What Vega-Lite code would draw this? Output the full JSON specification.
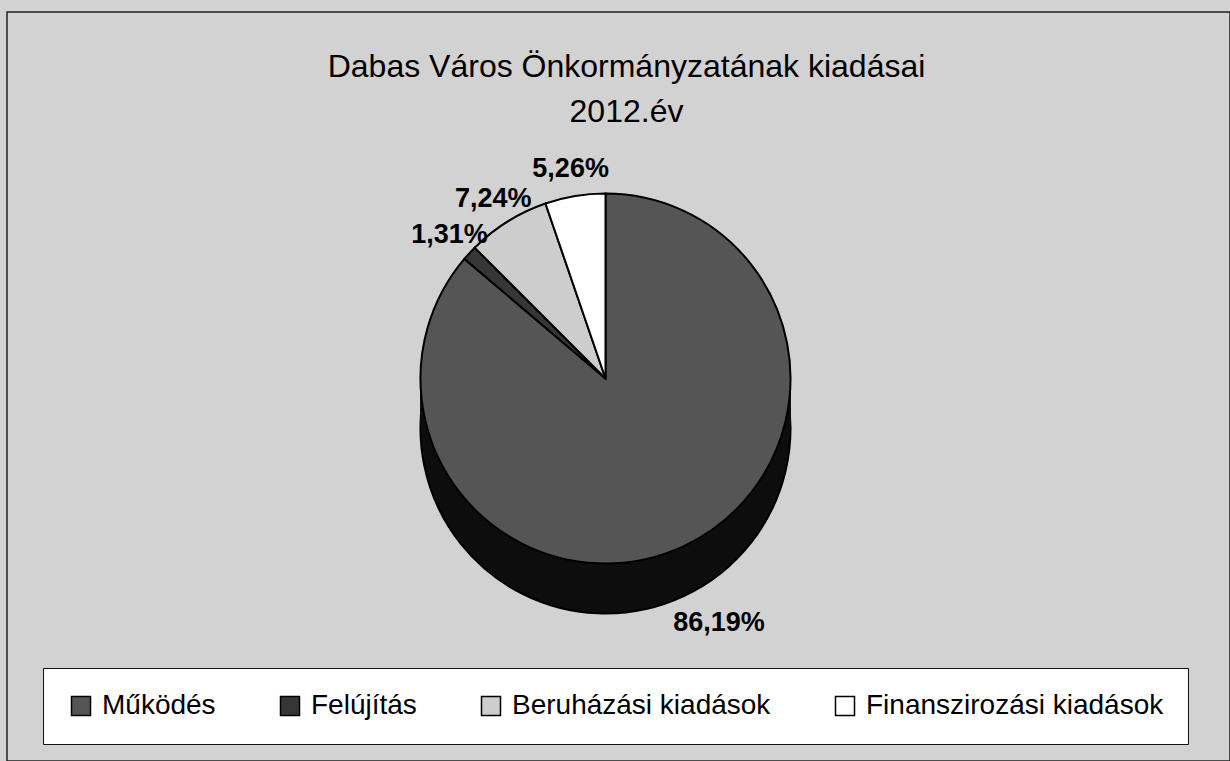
{
  "$schema": "https://vega.github.io/schema/vega-lite/v6.json",
  "width": 1223,
  "height": 749,
  "autosize": {"type": "none"},
  "padding": {"left": 7, "top": 12, "right": 0, "bottom": 0},
  "background": "#d2d2d2",
  "view": {"fill": "#d2d2d2", "stroke": "#222222", "strokeWidth": 1.5},
  "config": {
    "view": {"fill": "#d2d2d2", "stroke": "#222222", "strokeWidth": 1.5},
    "font": "Liberation Sans"
  },
  "title": {
    "text": ["Dabas Város Önkormányzatának kiadásai", "2012.év"],
    "font": "Liberation Sans",
    "fontSize": 32,
    "fontWeight": "normal",
    "color": "black",
    "lineHeight": 45,
    "anchor": "middle",
    "offset": -117,
    "dx": 8
  },
  "data": {
    "values": [
      {"kategoria": "Működés", "arany": 86.19, "cimke": "86,19%", "sorrend": 1},
      {"kategoria": "Felújítás", "arany": 1.31, "cimke": "1,31%", "sorrend": 2},
      {"kategoria": "Beruházási kiadások", "arany": 7.24, "cimke": "7,24%", "sorrend": 3},
      {"kategoria": "Finanszirozási kiadások", "arany": 5.26, "cimke": "5,26%", "sorrend": 4}
    ]
  },
  "encoding": {
    "theta": {"field": "arany", "type": "quantitative", "stack": true},
    "order": {"field": "sorrend", "type": "quantitative"}
  },
  "layer": [
    {"mark": {"type": "arc", "outerRadius": 185, "xOffset": -13, "yOffset": 42, "fill": "#0d0d0d", "stroke": "#000000", "strokeWidth": 2}},
    {"mark": {"type": "arc", "outerRadius": 185, "xOffset": -13, "yOffset": 25, "fill": "#0d0d0d", "stroke": "#0d0d0d", "strokeWidth": 1}},
    {"mark": {"type": "arc", "outerRadius": 185, "xOffset": -13, "yOffset": 8, "fill": "#0d0d0d", "stroke": "#0d0d0d", "strokeWidth": 1}},
    {
      "mark": {"type": "arc", "outerRadius": 185, "xOffset": -13, "yOffset": -8, "stroke": "#000000", "strokeWidth": 2},
      "encoding": {
        "color": {
          "field": "kategoria",
          "type": "nominal",
          "scale": {
            "domain": ["Működés", "Felújítás", "Beruházási kiadások", "Finanszirozási kiadások"],
            "range": ["#555555", "#363636", "#cdcdcd", "#ffffff"]
          },
          "legend": {
            "title": null,
            "orient": "none",
            "legendX": 36,
            "legendY": 656,
            "direction": "horizontal",
            "columns": 4,
            "columnPadding": 60,
            "padding": 24,
            "fillColor": "white",
            "strokeColor": "#111111",
            "symbolType": "square",
            "symbolSize": 361,
            "symbolStrokeColor": "black",
            "symbolStrokeWidth": 1.5,
            "labelFont": "Liberation Sans",
            "labelFontSize": 28,
            "labelColor": "black",
            "labelLimit": 400,
            "labelOffset": 7
          }
        }
      }
    },
    {
      "mark": {"type": "text", "radius": 270, "xOffset": -13, "yOffset": -8, "font": "Liberation Sans", "fontSize": 27, "fontWeight": "bold", "color": "black"},
      "encoding": {
        "text": {"field": "cimke", "type": "nominal"},
        "opacity": {"condition": {"test": "datum.sorrend == 1", "value": 1}, "value": 0}
      }
    },
    {
      "mark": {"type": "text", "radius": 212, "xOffset": -13, "yOffset": -8, "font": "Liberation Sans", "fontSize": 27, "fontWeight": "bold", "color": "black"},
      "encoding": {
        "text": {"field": "cimke", "type": "nominal"},
        "opacity": {"condition": {"test": "datum.sorrend != 1", "value": 1}, "value": 0}
      }
    }
  ]
}
